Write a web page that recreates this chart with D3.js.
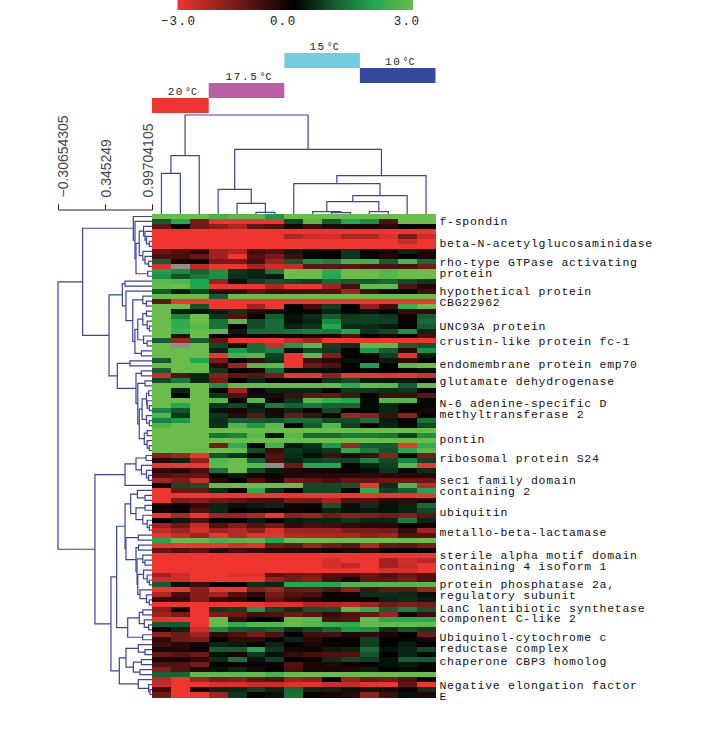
<!DOCTYPE html>
<html><head><meta charset="utf-8">
<style>html,body{margin:0;padding:0;background:#fff}svg{display:block}</style>
<script src="https://cdn.jsdelivr.net/npm/d3@7"></script></head><body>
<svg id="c" width="720" height="751"></svg>
<script>
const values=[
[3,3,3,2.5,2.8,2.8,1.8,3,3,3,3,3,3,3,3],
[1,2,-1.5,-3,-3,-3,-3,.8,2.8,1,2,1.7,-1,3,3],
[-1.2,-.1,-1.4,-1.8,-2.2,-1.2,-1,-.3,-.8,-.4,-.3,-.3,-.5,0,-.2],
[-3,-3,-3,-3,-3,-3,-3,-3,-3,-3,-3,-3,-3,-3,-3],
[-3,-3,-3,-3,-3,-3,-3,-2.2,-2.6,-2.7,-2.2,-2.2,-2.8,-1.5,-2.6],
[-3,-3,-3,-3,-3,-3,-3,-3,-3,-3,-3,-3,-3,-2.5,-3],
[-3,-3,-3,-3,-3,-3,-3,-3,-3,-3,-3,-3,-3,-3,-3],
[-1.3,-1,-.5,-2,-2.2,-.8,-1,.3,.1,0,.6,0,-.3,.4,-.4],
[-1,-.9,-1.3,-2,-3,-1,-1.5,-.8,.1,0,.6,.1,-.4,0,-.3],
[1,-.3,0,-1.5,-1.5,-.8,-2,.9,1.7,1.5,2.5,2.5,1,2.6,1.2],
[-2.8,null,-2.4,-3,-3,-2,-2.6,-2.5,-1.2,-1.2,-1.2,-1,-1,-.9,-1.5],
[1.9,1.6,1.1,1.7,.6,.4,1.4,3,3,2.2,3,3,2.7,3,3],
[1.7,.9,1.4,1.7,.5,.4,.3,3,3,2,3,3,2.7,3,3],
[2.8,2.7,2,-2,.2,.7,.9,.8,.7,1.2,1,1,1.2,.8,.6],
[2.9,3,2,-3,-3,-3,-2.2,-3,-3,-2,-.9,2.9,2.9,-1,-.4],
[1,.3,.8,-.5,-.7,-1.2,-.8,-.8,-.9,-1,-2,-.8,-.3,0,-.8],
[3,3,3,1,3,3,3,3,3,3,3,3,3,3,3],
[-1.2,-3,-3,-3,-3,-3,-3,-3,-3,-3,-3,-3,-3,-3,-3],
[3,3,.9,-3,-3,-2,-3,0,-.8,.7,0,-1.8,-.8,2.3,3],
[3,.3,.2,.3,.6,-.5,.2,.1,-.2,.4,.1,.2,-.1,-.6,-.6],
[3,1.5,3,.6,-1,-.1,1,.2,.5,1,.6,.7,.6,-.2,1],
[3,2.2,3,1.3,2.8,.8,1.2,.2,.4,1.6,.7,.7,.7,-.1,1.2],
[3,2.2,2.8,1.3,0,.8,1.2,.4,.6,2,.5,.5,.3,-.1,1],
[3,2.4,3,2.8,.3,1.2,1.2,1.3,1.5,1.4,2,.6,.8,1.7,.4],
[3,.3,3,0,-.1,-.2,-.2,-.2,-.3,-.3,-1,0,-.3,-.1,-.9],
[1,-2,1,-1.2,-3,-3,-3,-2.5,-2,-3,-3,-3,-3,-3,-3],
[3,null,3,.8,-.3,1.2,-2.5,1.8,2.8,.7,.5,2.8,2.8,1,.9],
[3,3,3,.4,1.8,1.2,1.5,.2,.8,.6,0,1.8,1,-.5,1.7],
[3,3,3,-3,2.5,2.7,.7,-3,2.8,-1.7,0,-.2,.7,-2.9,.3],
[1,3,2,-1.5,0,-.8,.6,-3,-.8,-.5,.2,-.1,.3,-.6,0],
[3,3,3,-.5,-2,2.7,2.8,-3,-1.4,-1,0,1.9,0,2.8,3],
[1,3,3,.6,0,-.3,1.2,.2,.2,.2,0,.1,0,.1,.2],
[-2.6,-1,.4,-1.7,-1.2,-1.1,-1.5,-3,-3,-1.8,-3,-3,-2.9,-3,-2.7],
[.8,1.4,.4,-1.5,0,.4,0,0,0,.6,.8,.3,.3,.3,.1],
[3,3,3,1.7,2.9,2.9,2.9,2.9,2.9,2.9,2.2,2.9,2.8,1,2.9],
[3,.4,3,-.2,-2,-.1,.4,.4,.4,.1,.6,.6,.5,.6,0],
[3,-.1,3,.6,-1,-.4,-.4,-.8,-1.2,-1.3,-1,0,-.8,-.8,-1.2],
[3,3,3,2.8,.1,2.7,-.1,.6,2.7,2.3,2,.1,2.7,2.7,.1],
[3,2,3,.6,.8,.3,1.4,1.1,1.4,1.1,1.1,.1,.4,.1,.1],
[1.5,.9,3,.2,-.3,.4,-.3,.4,-.1,.8,0,.1,.4,-.2,-.3],
[2.7,.6,3,.6,-.5,-1.2,.2,-1.4,-.8,-.2,-2,-1.8,-.8,-1.8,-.1],
[1.5,1.8,3,.5,1,1,.9,1.2,1.2,.8,.8,1.3,.3,0,1.3],
[2.6,3,3,.5,2.6,1.8,2.8,0,1,2.7,.7,0,.4,-.2,.8],
[3,3,3,3,3,3,3,3,3,3,3,3,3,3,3],
[3,3,3,1.3,1.5,2.8,.2,2.8,1.2,1.2,1.4,1.4,1.3,.7,1.7],
[3,3,3,3,3,3,3,3,3,3,3,3,3,3,3],
[3,3,3,-1.5,2.2,0,2.5,.3,.6,1.8,-2,1,1,-3,2.2],
[3,3,3,3,3,.8,-.7,.6,.4,.6,2.2,1.4,.9,2,2.8],
[-1.7,-2,-3,.9,.6,0,-1,.5,.2,-.8,-.4,-.8,-1.8,-.2,-1.5],
[-.5,.4,-1.8,2.7,3,1.1,-1,.4,.7,.8,.7,1.5,.8,1.5,.7],
[-3,-3,-3,2.8,3,2.8,null,-1.4,2,2,0,.4,.7,2.8,-3],
[-.6,-.4,-.9,1.3,3,.8,.3,-.4,-.2,-.2,-.1,.2,.6,.1,.5],
[-1,-1.2,-1.2,0,.3,-.3,.1,-.4,-.5,-.5,-.5,-.6,-.5,-.5,-.5],
[-2,-1.6,-2.5,-.5,0,-1,-.3,-1.4,-1.2,-.9,-1.3,-1.2,-1.4,-1.4,-1.3],
[0,.8,.9,2.9,3,3,3,3,.8,.8,.9,-3,.5,2.7,-2.4],
[-3,-1.3,-1.3,.5,0,2.2,.5,-.1,.8,.8,0,2.2,.7,1,2],
[-3,-3,-3,-3,-3,-3,-3,-3,-3,-3,-3,-3,-3,-3,-3],
[-3,-1.6,-1.7,-1.4,-1.2,-.9,-.8,-1.5,-1.4,-2,-1,-1,-.5,-.6,-.4],
[-.1,0,-.6,.4,.2,.3,.4,.1,.1,.9,.2,.5,.2,.4,1.2],
[-.2,0,-1,.4,0,.1,-.1,-.2,-.1,.4,.2,.3,.2,.4,.8],
[-3,-2.2,-3,-2,-2,-2.2,-3,-1.8,-2,-1.5,-1.8,-1.7,-1.5,-1.7,-1.2],
[0,.3,-1,0,0,.3,0,.3,.4,.4,.6,.4,.4,1.4,.4],
[-2,-1.4,-2.5,-1,-1.6,-1,-1.4,-.6,-.9,-.8,-.6,-.5,-.5,0,-.2],
[-2.5,-2,-2.7,-2,-2.3,-1.8,-2.8,-2,-2,-2,-1.6,-1.6,-1.5,-.6,-2],
[-3,-2.5,-2,-3,-2.3,-2.9,-2.9,-2.3,-2.2,-2.2,-2.2,-1.8,-2,-1,-1.1],
[2,2.9,2.9,2.5,2.7,2.8,2,3,3,3,3,3,3,3,3],
[-3,-3,-3,-3,-2.7,-2.9,-1.5,-1.2,-2,-1.5,-1.2,-2.2,-1.3,-1.2,-1.6],
[-1.3,-1,-1.2,-.5,-.9,-.7,-.5,-.5,-.4,-.1,-.3,-.5,0,0,-.1],
[-3,-3,-3,-3,-3,-3,-3,-3,-3,-3,-3,-3,-3,-3,-3],
[-3,-3,-3,-3,-3,-3,-3,-3,-3,-2.7,-3,-3,-2,-2.6,-2.3],
[-3,-3,-3,-3,-3,-3,-3,-3,-3,-2.7,-2.4,-3,-2,-2.5,-3],
[-3,-3,-3,-3,-3,-3,-3,-3,-3,-3,-3,-3,-2.7,-2.7,-3],
[-2,-2.6,-3,-3,-2.8,-2.8,-1.1,-1.4,-1.5,-1,-1,-1.3,-.9,-1.3,-1],
[-2.6,-2.6,-3,-3,-3,-3,-1.9,-1.5,-1.8,-.9,-.4,-1.2,-1.2,-1.5,-1],
[1,.2,-.8,0,-.1,.5,.4,2,2,2,2.6,2.6,2.7,2.7,2.8],
[-3,-3,-1.7,-3,-3,-1.6,-2,-1.3,-1.4,-1.1,-1.8,-.9,-1.2,-1.2,-2],
[-2.2,-.9,-1.7,-2,-1,-.5,-1.5,-1,-.9,-.1,-.2,.5,.5,.4,.2],
[-.6,-.6,-1.7,-.7,-.5,0,-1.2,-.7,-.4,.1,.1,.1,.4,.5,.3],
[-3,-3,-3,-3,-3,-3,-2.8,-2.8,-2.2,-2.2,-2.4,-2,-1.4,-1.6,-1.5],
[-1.7,0,-3,.6,.7,1.8,.8,.5,.9,.9,2.8,2.2,1,1.5,.9],
[-2,-1.5,-3,-1.6,-1.4,-.8,-1,-1.4,-1.1,-.7,-1,-1.3,-2,-.2,-.8],
[-2.9,-3,-3,2.9,-.7,0,0,2.9,2.8,-.9,-1.1,2.9,2.1,2.1,2.1],
[1,1,-3,2.9,2.2,2.7,2.7,2.9,2.7,2.4,2.2,2.9,2.9,2.9,2.9],
[0,.4,-2.6,1.6,1,.9,1.1,.5,.8,1.1,1.8,1.7,.5,.9,.7],
[-1.8,-1.4,-2,-.6,-1,-1.5,-1,0,-.8,-.9,-.4,-.6,-.3,0,-1.4],
[-.6,-1.4,-1.6,0,-.6,-.6,-.1,.4,-.5,0,-.2,.7,0,-.1,-.3],
[-.8,-.5,-.3,.4,.3,-.1,.4,0,-.3,-.2,-.1,.7,0,.3,0],
[-.3,-.4,0,1,1,2,.6,-.3,-.2,.3,.4,1.2,.2,.4,.8],
[-1.3,-1.1,-1.4,.2,-.3,.6,.2,-.6,-.9,-1,-1,.9,0,.4,.1],
[-.3,-.3,-.6,.5,1.3,.2,.7,0,-.1,.5,.8,.7,.2,1,1],
[-1,-1,-1.5,0,-.1,-.1,-.1,-1,-.3,-.4,-.2,-.1,.2,.3,.1],
[-1.7,-1,-.4,.2,.4,-.3,0,-.9,-.3,-.3,-.4,.3,0,.1,-.1],
[1.1,1.1,2.8,2.8,2.8,2.9,2.5,2.9,3,3,3,3,3,3,3],
[-2.4,-3,-2,-1.6,-1.7,-1.2,-1,-2,-1.8,0,-2,-1.4,-1.5,-1,0],
[-2.5,-3,-3,-2.8,-2.8,-2.5,-2.6,-2.8,-2.9,-2.6,-2.5,-2.9,-3,-1.2,-3],
[-.8,-3,0,.4,.4,.7,.4,1.2,.4,.4,.2,.3,.2,-.1,.5],
[-1.4,-3,-3,-2,.6,0,.2,1.3,-.1,-.3,-.5,-1.8,-.8,.2,-.4]
];
const rowLabels=["f-spondin","beta-N-acetylglucosaminidase","rho-type GTPase activating","protein","hypothetical protein","CBG22962","UNC93A protein","crustin-like protein fc-1","endomembrane protein emp70","glutamate dehydrogenase","N-6 adenine-specific D","methyltransferase 2","pontin","ribosomal protein S24","sec1 family domain","containing 2","ubiquitin","metallo-beta-lactamase","sterile alpha motif domain","containing 4 isoform 1","protein phosphatase 2a,","regulatory subunit","LanC lantibiotic synthetase","component C-like 2","Ubiquinol-cytochrome c","reductase complex","chaperone CBP3 homolog","Negative elongation factor","E"];
const labelRows=[1.4,5.83,9.65,11.86,15.47,17.68,22.5,25.5,30.1,33.6,38,40.2,45.2,49,53.5,55.7,59.9,63.9,68.5,70.7,74.4,76.6,79.2,81.2,85,87.2,89.8,94.5,96.7];
const tempNames=["20","17.5","15","10"];
const tempCols=[[0,3],[3,7],[7,11],[11,15]];
const tempLevels=[0,1,3,2];
const tempColors=["#ee3530","#bb5fa3","#72cedf","#364a9c"];
const scaleTicks=[-0.30654305,0.345249,0.99704105];
const scaleText=["\u22120.30654305","0.345249","0.99704105"];
const legendTicks=[-3,0,3];
const legendText=["\u22123.0","0.0","3.0"];
const colTree=[-.376,[.188,[.433,0,1],2],[.1,[.655,3,[.849,4,[.974,5,6]]],[.465,[.576,7,[.743,[.826,[.965,8,[.979,9,10]],[.965,11,12]],13]],14]]];
const rowTree=[-.3067,
 [.035,
  [.738,0,[.761,1,[.775,[.82,[.88,2,[.9,3,[.92,4,[.96,5,6]]]],[.87,7,[.9,8,[.95,9,10]]]],[.938,11,12]]]],
  [.401,
   [.586,[.623,13,14],[.636,15,[.73,[.87,16,[.92,17,18]],[.76,[.8,[.87,[.92,19,20],[.93,21,[.96,22,23]]],[.88,24,[.93,25,26]]],[.85,27,28]]]]],
   [.516,[.692,29,30],[.775,[.85,31,32],[.8,[.9,33,34],[.82,[.86,[.92,[.95,35,36],[.93,37,[.96,38,39]]],[.92,40,[.96,41,42]]],[.89,[.93,43,44],[.93,45,[.96,46,47]]]]]]]
  ]
 ],
 [.206,
  [.623,[.775,[.915,48,49],[.85,50,[.92,51,[.95,52,53]]]],54],
  [.428,
   [.507,
    [.623,
     [.701,[.794,55,[.9,56,57]],[.775,[.9,58,59],[.87,60,[.93,61,[.96,62,63]]]]],
     [.636,[.807,64,65],[.775,[.81,66,67],[.79,[.87,68,[.9,69,70]],[.8,[.88,71,[.93,72,[.96,73,74]]],[.83,75,[.92,76,[.96,77,78]]]]]]]
    ],
    [.66,[.821,[.87,79,80],[.89,81,[.95,82,83]]],[.868,84,85]]
   ],
   [.544,[.636,[.807,86,[.9,87,88]],[.738,[.85,89,90],[.83,91,92]]],[.807,93,[.95,94,[.97,95,96]]]]
  ]
 ]
];

const svg=d3.select("#c");
const MONO="'Liberation Mono',monospace";
const heatL=152,heatR=435.5,heatT=214,heatB=697;
const x=d3.scaleBand().domain(d3.range(15)).range([heatL,heatR]);
const y=d3.scaleBand().domain(d3.range(values.length)).range([heatT,heatB]);
const rowPos=d3.scaleLinear().domain([0,values.length]).range([heatT,heatB]);
const color=d3.scaleLinear().domain([-3,0,1,2,3]).range(["#ee3530","#000000","#165c30","#1fa84f","#6abd4b"]).clamp(true);
const hx=d3.scaleLinear().domain([scaleTicks[0],scaleTicks[2]]).range([58,152]);
const hy=d3.scaleLinear().domain([scaleTicks[0],scaleTicks[2]]).range([heatT-94,heatT]);

// legend
const defs=svg.append("defs");
const lg=defs.append("linearGradient").attr("id","lg");
d3.range(-3,3.01,.25).forEach(v=>lg.append("stop").attr("offset",(v+3)/6).attr("stop-color",color(v)));
const legX=d3.scaleLinear().domain([-3,3]).range([177.5,413]);
svg.append("rect").attr("x",legX(-3)).attr("y",0).attr("width",legX(3)-legX(-3)).attr("height",10).attr("fill","url(#lg)");
svg.selectAll(".lt").data(legendTicks).join("text").attr("class","lt")
 .attr("x",(d,i)=>legX(d)+[1,-12,-6][i]).attr("y",25).attr("text-anchor","middle")
 .attr("font-family",MONO).attr("font-size",12.5).attr("letter-spacing",1.4).attr("fill","#222").text((d,i)=>legendText[i]);

// temperature bars
const level=d3.scaleLinear().domain([0,3]).range([98,53]);
tempNames.forEach((n,i)=>{
 const a=tempCols[i][0],b=tempCols[i][1],l=tempLevels[i];
 const xa=x(a),xb=b<15?x(b):heatR;
 svg.append("rect").attr("x",xa).attr("y",level(l)).attr("width",xb-xa).attr("height",15).attr("fill",tempColors[i]);
 const t=svg.append("text").attr("x",(xa+xb)/2+2).attr("y",level(l)-3).attr("text-anchor","middle")
  .attr("font-family",MONO).attr("font-size",11).attr("letter-spacing",1.6).attr("fill","#222");
 t.append("tspan").text(n);
 t.append("tspan").attr("dx",1).attr("font-size",10).attr("letter-spacing",0).text("\u00b0C");
});

// heatmap
const rowG=svg.append("g").attr("shape-rendering","crispEdges");
values.forEach((r,i)=>{
 rowG.selectAll(null).data(r).join("rect")
  .attr("x",(d,j)=>x(j)).attr("y",y(i)).attr("width",x.bandwidth()+.5).attr("height",y.bandwidth()+.5)
  .attr("fill",d=>d===null?"#8e8e8e":color(d));
});

// dendrograms
function layout(n,posLeaf){
 if(typeof n==="number")return{p:posLeaf(n),h:scaleTicks[2],leaf:true};
 const a=layout(n[1],posLeaf),b=layout(n[2],posLeaf);
 return{p:(a.p+b.p)/2,h:n[0],a,b};
}
function segs(n,out){ if(n.leaf)return out;
 out.push({h:n.h,p1:n.a.p,p2:n.b.p,ha:n.a.h,hb:n.b.h});segs(n.a,out);segs(n.b,out);return out;}
const stroke="#3d429e";
const rs=segs(layout(rowTree,i=>y(i)+y.bandwidth()/2),[]);
svg.append("g").selectAll("path").data(rs).join("path").attr("fill","none").attr("stroke",stroke).attr("stroke-width",1.2)
 .attr("d",d=>`M${hx(d.ha)},${d.p1}H${hx(d.h)}V${d.p2}H${hx(d.hb)}`);
const cs=segs(layout(colTree,i=>x(i)+x.bandwidth()/2),[]);
svg.append("g").selectAll("path").data(cs).join("path").attr("fill","none").attr("stroke",stroke).attr("stroke-width",1.2)
 .attr("d",d=>`M${d.p1},${hy(d.ha)}V${hy(d.h)}H${d.p2}V${hy(d.hb)}`);

// similarity axis
const axG=svg.append("g").attr("transform","translate(0,209.5)")
 .call(d3.axisTop(hx).tickValues(scaleTicks).tickSize(5).tickFormat((d,i)=>scaleText[i]));
axG.select(".domain").attr("stroke","#222");
axG.selectAll("line").attr("stroke","#222");
axG.selectAll("text").attr("font-family","'Liberation Sans',sans-serif").attr("font-size",14).attr("fill","#444")
 .attr("text-anchor","start").attr("dy",0).attr("y",0)
 .attr("transform",(d,i)=>`translate(${[9.5,5,0.5][i]},-12) rotate(-90)`);

// row labels
svg.selectAll(".rl").data(rowLabels).join("text").attr("class","rl")
 .attr("x",439.5).attr("y",(d,i)=>rowPos(labelRows[i])+4)
 .attr("font-family",MONO).attr("font-size",11.5).attr("letter-spacing",.72).attr("fill","#111").text(d=>d);
</script></body></html>
